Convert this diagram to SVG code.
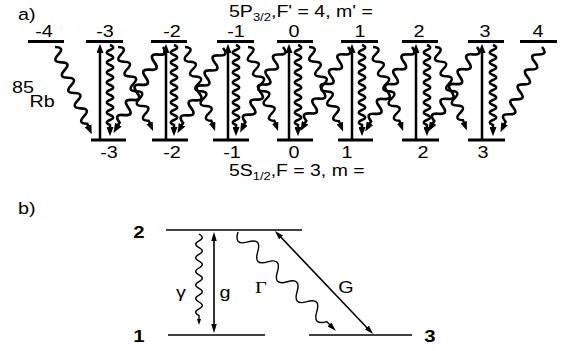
<svg xmlns="http://www.w3.org/2000/svg" xmlns:xlink="http://www.w3.org/1999/xlink" width="565" height="351" viewBox="0 0 565 351">
<style>
.lv{stroke:#000;stroke-width:3}
.ar{stroke:#000;stroke-width:2.5;fill:none}
.wv{fill:none;stroke:#000;stroke-width:2.5}
.tl{stroke:#000;stroke-width:1.6;fill:none}
.tw{fill:none;stroke:#000;stroke-width:1.4}
text{font-family:"Liberation Sans",Arial,sans-serif;font-size:16.5px;fill:#000}
.c{text-anchor:middle}
.b{font-weight:bold;font-size:17px}
.s{font-family:"Liberation Serif","Times New Roman",serif;font-size:17px}
</style>
<defs>
<marker id="ah" viewBox="0 0 10 10" refX="1" refY="5" markerWidth="9" markerHeight="7" markerUnits="userSpaceOnUse" orient="auto-start-reverse" preserveAspectRatio="none"><path d="M0,0 L10,5 L0,10 z"/></marker>
<marker id="ahb" viewBox="0 0 10 10" refX="1" refY="5" markerWidth="9" markerHeight="5.5" markerUnits="userSpaceOnUse" orient="auto-start-reverse" preserveAspectRatio="none"><path d="M0,0 L10,5 L0,10 z"/></marker>
<marker id="ahs" viewBox="0 0 10 10" refX="1" refY="5" markerWidth="6" markerHeight="4" markerUnits="userSpaceOnUse" orient="auto" preserveAspectRatio="none"><path d="M0,0 L10,5 L0,10 z"/></marker>
<path id="wv" class="wv" marker-end="url(#ah)" d="M0,0 q2.5,-6.4 5,0 t5,0 t5,0 t5,0 t5,0 t5,0 t5,0 t5,0 t5,0 t5,0 t5,0 t5,0 t5,0 t5,0 t5,0 t5,0 h3"/>
<path id="wd" class="wv" marker-end="url(#ah)" d="M0,0 q4,-9 8,0 t8,0 t8,0 t8,0 t8,0 t8,0 t8,0 t8,0 t8,0 t8,0 h3"/>
<path id="wg" class="tw" marker-end="url(#ahs)" d="M0,0 q3.4,-6.6 6.8,0 t6.8,0 t6.8,0 t6.8,0 t6.8,0 t6.8,0 t6.8,0 t6.8,0 t6.8,0 t6.8,0 t6.8,0 t6.8,0 h4"/>
<path id="wG" class="tw" marker-end="url(#ahb)" d="M0,0 q7,13 14,0 t14,0 t14,0 t14,0 t14,0 t14,0 t14,0 t14,0 t14,0 h5"/>
</defs>

<g id="upper-levels">
<line class="lv" x1="28" y1="41.5" x2="64" y2="41.5"/>
<line class="lv" x1="86" y1="41.5" x2="123" y2="41.5"/>
<line class="lv" x1="151" y1="41.5" x2="187" y2="41.5"/>
<line class="lv" x1="217" y1="41.5" x2="254" y2="41.5"/>
<line class="lv" x1="277" y1="41.5" x2="313" y2="41.5"/>
<line class="lv" x1="341" y1="41.5" x2="378" y2="41.5"/>
<line class="lv" x1="402" y1="41.5" x2="438" y2="41.5"/>
<line class="lv" x1="468" y1="41.5" x2="504" y2="41.5"/>
<line class="lv" x1="520" y1="41.5" x2="557" y2="41.5"/>
</g>
<g id="lower-levels">
<line class="lv" x1="91" y1="140" x2="126" y2="140"/>
<line class="lv" x1="152" y1="140" x2="188" y2="140"/>
<line class="lv" x1="213" y1="140" x2="249" y2="140"/>
<line class="lv" x1="277" y1="140" x2="313" y2="140"/>
<line class="lv" x1="338" y1="140" x2="373" y2="140"/>
<line class="lv" x1="402" y1="140" x2="439" y2="140"/>
<line class="lv" x1="468" y1="140" x2="505" y2="140"/>
</g>

<g id="connectors-a">
<line class="ar" x1="100" y1="139" x2="100" y2="52" marker-end="url(#ah)"/>
<line class="ar" x1="166" y1="139" x2="166" y2="52" marker-end="url(#ah)"/>
<line class="ar" x1="228" y1="139" x2="228" y2="52" marker-end="url(#ah)"/>
<line class="ar" x1="289" y1="139" x2="289" y2="52" marker-end="url(#ah)"/>
<line class="ar" x1="352" y1="139" x2="352" y2="52" marker-end="url(#ah)"/>
<line class="ar" x1="416" y1="139" x2="416" y2="52" marker-end="url(#ah)"/>
<line class="ar" x1="482" y1="139" x2="482" y2="52" marker-end="url(#ah)"/>

<use xlink:href="#wv" transform="translate(110,45) rotate(90)"/>
<use xlink:href="#wv" transform="translate(174,45) rotate(90)"/>
<use xlink:href="#wv" transform="translate(236,45) rotate(90)"/>
<use xlink:href="#wv" transform="translate(298,45) rotate(90)"/>
<use xlink:href="#wv" transform="translate(362,45) rotate(90)"/>
<use xlink:href="#wv" transform="translate(427,45) rotate(90)"/>
<use xlink:href="#wv" transform="translate(493,45) rotate(90)"/>

<use xlink:href="#wd" transform="translate(55,47) rotate(67.2) scale(1.04)"/>
<use xlink:href="#wd" transform="translate(118,47) rotate(67.4)"/>
<use xlink:href="#wd" transform="translate(185,47) rotate(70.3) scale(0.98)"/>
<use xlink:href="#wd" transform="translate(248,47) rotate(70.3) scale(0.98)"/>
<use xlink:href="#wd" transform="translate(309,47) rotate(68)"/>
<use xlink:href="#wd" transform="translate(373,47) rotate(70.3) scale(0.98)"/>
<use xlink:href="#wd" transform="translate(435,47) rotate(69.1) scale(0.98)"/>

<use xlink:href="#wd" transform="translate(163,47) rotate(119.9) scale(1.09)"/>
<use xlink:href="#wd" transform="translate(223,48) rotate(118.1) scale(1.06)"/>
<use xlink:href="#wd" transform="translate(283,47) rotate(116.6) scale(1.05)"/>
<use xlink:href="#wd" transform="translate(348,47) rotate(119.5) scale(1.06)"/>
<use xlink:href="#wd" transform="translate(412,47) rotate(118.9) scale(1.06)"/>
<use xlink:href="#wd" transform="translate(477,47) rotate(120) scale(1.07)"/>
<use xlink:href="#wd" transform="translate(542,47) rotate(116) scale(1.04)"/>
</g>

<g id="levels-b">
<line class="tl" x1="166" y1="230" x2="302" y2="230"/>
<line class="tl" x1="168" y1="335" x2="265" y2="335"/>
<line class="tl" x1="309" y1="335" x2="412" y2="335"/>
</g>
<g id="connectors-b">
<line class="tl" x1="214" y1="240" x2="214" y2="325" marker-start="url(#ahb)" marker-end="url(#ahb)"/>
<line class="tl" x1="280.5" y1="236.8" x2="367.5" y2="328.2" marker-start="url(#ahb)" marker-end="url(#ahb)"/>
<use xlink:href="#wg" transform="translate(199,234) rotate(90)"/>
<use xlink:href="#wG" transform="translate(238,232) rotate(45.3)"/>
</g>

<g id="labels" transform="scale(1.2,1)">
<text x="15" y="20">a)</text>
<text x="190.8" y="17" textLength="120" lengthAdjust="spacingAndGlyphs">5P<tspan font-size="11" dy="4">3/2</tspan><tspan dy="-4">,F' = 4, m' =</tspan></text>
<text class="c" x="36.7" y="37.5">-4</text>
<text class="c" x="87.5" y="37.5">-3</text>
<text class="c" x="143.3" y="37.5">-2</text>
<text class="c" x="196.7" y="37.5">-1</text>
<text class="c" x="245" y="37.5">0</text>
<text class="c" x="300" y="37.5">1</text>
<text class="c" x="349.2" y="37.5">2</text>
<text class="c" x="404.2" y="37.5">3</text>
<text class="c" x="448.3" y="37.5">4</text>
<text class="c" x="90.8" y="158.5">-3</text>
<text class="c" x="143.3" y="158.5">-2</text>
<text class="c" x="193.3" y="158.5">-1</text>
<text class="c" x="245" y="158.5">0</text>
<text class="c" x="289.2" y="158.5">1</text>
<text class="c" x="352.5" y="158.5">2</text>
<text class="c" x="402.5" y="158.5">3</text>
<text x="190.8" y="176" textLength="113" lengthAdjust="spacingAndGlyphs">5S<tspan font-size="11" dy="4">1/2</tspan><tspan dy="-4">,F = 3, m =</tspan></text>
<text x="10" y="93" font-size="10.5">85</text>
<text x="24.5" y="107">Rb</text>
<text x="15" y="214">b)</text>
<text class="c b" x="115.8" y="238">2</text>
<text class="c b" x="115.8" y="342">1</text>
<text class="c b" x="358.3" y="342">3</text>
<text class="c" x="150.8" y="298">γ</text>
<text class="c" x="187.5" y="298">g</text>
<text class="c s" x="217.5" y="293">Γ</text>
<text class="c" x="288.3" y="293">G</text>
</g>
</svg>
